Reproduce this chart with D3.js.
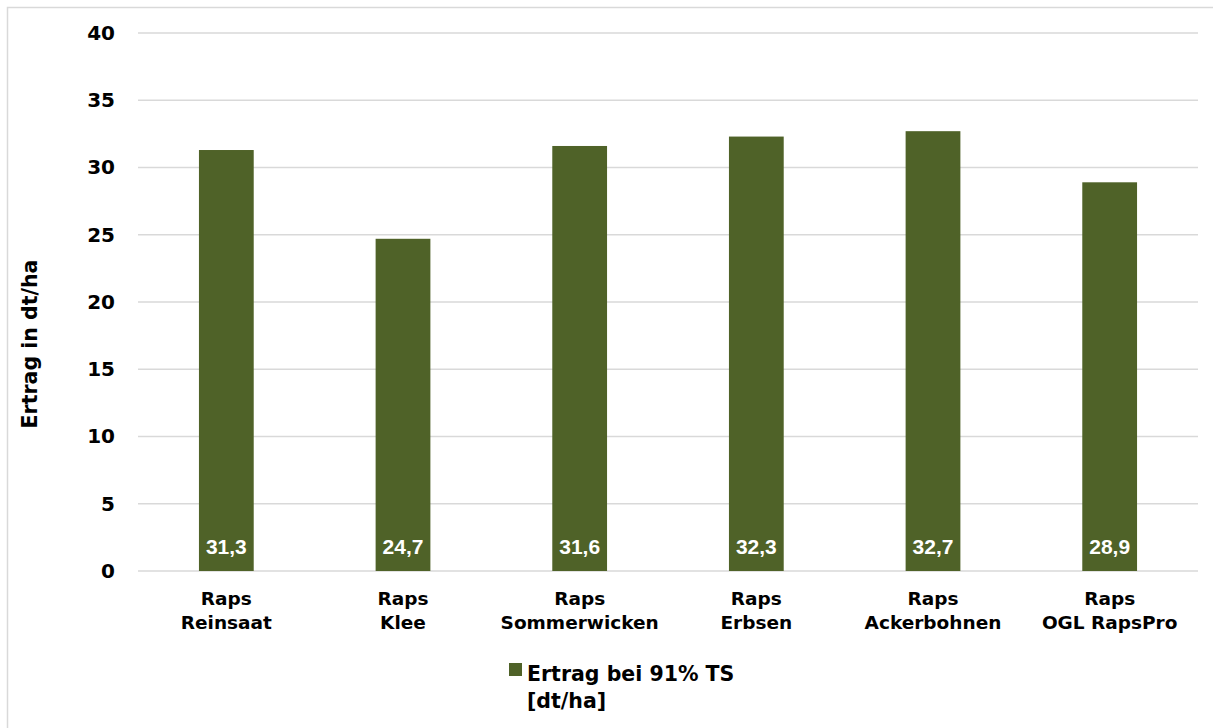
<!DOCTYPE html>
<html>
<head>
<meta charset="utf-8">
<script src="https://cdn.jsdelivr.net/npm/d3@7"></script>
<style>
  html, body { margin: 0; padding: 0; background: #fff; }
  svg { display: block; font-family: "DejaVu Sans", sans-serif; }
</style>
</head>
<body>
<svg id="chart" width="1213" height="728"></svg>
<script>
// Yield of rapeseed (dt/ha at 91% dry matter) by companion crop
const categories = [
  ["Raps", "Reinsaat"],
  ["Raps", "Klee"],
  ["Raps", "Sommerwicken"],
  ["Raps", "Erbsen"],
  ["Raps", "Ackerbohnen"],
  ["Raps", "OGL RapsPro"]
];
const yieldValues = [31.3, 24.7, 31.6, 32.3, 32.7, 28.9];
const yTicks = [0, 5, 10, 15, 20, 25, 30, 35, 40];
const yTitle = "Ertrag in dt/ha";
const legendLines = ["Ertrag bei 91% TS", "[dt/ha]"];

const barColor = "#4f6228";
const gridColor = "#d9d9d9";
const wideFont = "DejaVu Sans, sans-serif";
const narrowFont = "Liberation Sans, Arial, sans-serif";

const svg = d3.select("#chart");

// Outer chart frame
svg.append("rect")
  .attr("x", 7.5).attr("y", 7.5)
  .attr("width", 1213).attr("height", 728)
  .attr("fill", "none").attr("stroke", gridColor).attr("stroke-width", 1.5);

const plot = { left: 138, right: 1198, top: 33, bottom: 571 };

const x = d3.scaleBand()
  .domain(categories.map((d, i) => i))
  .range([plot.left, plot.right])
  .paddingInner(0.69).paddingOuter(0.345);

const y = d3.scaleLinear().domain([0, 40]).range([plot.bottom, plot.top]);

// Horizontal gridlines
svg.append("g")
  .selectAll("line")
  .data(yTicks)
  .join("line")
  .attr("x1", plot.left).attr("x2", plot.right)
  .attr("y1", d => y(d)).attr("y2", d => y(d))
  .attr("stroke", gridColor).attr("stroke-width", 1.5);

// Y axis tick labels
const yAxis = d3.axisLeft(y).tickValues(yTicks).tickSize(0).tickPadding(0);
const yg = svg.append("g").attr("transform", `translate(${plot.left - 23},0)`).call(yAxis);
yg.select(".domain").remove();
yg.selectAll("text")
  .attr("font-size", 20).attr("font-weight", "bold").attr("fill", "#000")
  .attr("font-family", wideFont);

// Y axis title
svg.append("text")
  .attr("transform", `translate(37,${(plot.top + plot.bottom) / 2 + 42}) rotate(-90)`)
  .attr("text-anchor", "middle")
  .attr("font-family", wideFont)
  .attr("font-size", 20.5).attr("font-weight", "bold")
  .text(yTitle);

// Bars
svg.append("g")
  .selectAll("rect")
  .data(yieldValues)
  .join("rect")
  .attr("x", (d, i) => x(i))
  .attr("y", d => y(d))
  .attr("width", x.bandwidth())
  .attr("height", d => y(0) - y(d))
  .attr("fill", barColor);

// Value labels inside the bar base
svg.append("g")
  .selectAll("text")
  .data(yieldValues)
  .join("text")
  .attr("x", (d, i) => x(i) + x.bandwidth() / 2)
  .attr("y", y(0) - 17)
  .attr("text-anchor", "middle")
  .attr("font-family", narrowFont)
  .attr("font-size", 21).attr("font-weight", "bold").attr("fill", "#fff")
  .text(d => d3.format(".1f")(d).replace(".", ","));

// Category labels (two lines each)
const xg = svg.append("g");
categories.forEach((lines, i) => {
  const t = xg.append("text")
    .attr("x", x(i) + x.bandwidth() / 2)
    .attr("y", 605)
    .attr("text-anchor", "middle")
    .attr("font-family", wideFont)
    .attr("font-size", 18.5).attr("font-weight", "bold");
  lines.forEach((ln, j) => {
    t.append("tspan")
      .attr("x", x(i) + x.bandwidth() / 2)
      .attr("dy", j === 0 ? 0 : 24)
      .text(ln);
  });
});

// Legend
const lg = svg.append("g");
lg.append("rect")
  .attr("x", 509).attr("y", 663).attr("width", 13).attr("height", 13)
  .attr("fill", barColor);
const lt = lg.append("text")
  .attr("x", 527).attr("y", 681)
  .attr("font-family", wideFont)
  .attr("font-size", 20.5).attr("font-weight", "bold");
legendLines.forEach((ln, j) => {
  lt.append("tspan").attr("x", 527).attr("dy", j === 0 ? 0 : 27).text(ln);
});
</script>
</body>
</html>
